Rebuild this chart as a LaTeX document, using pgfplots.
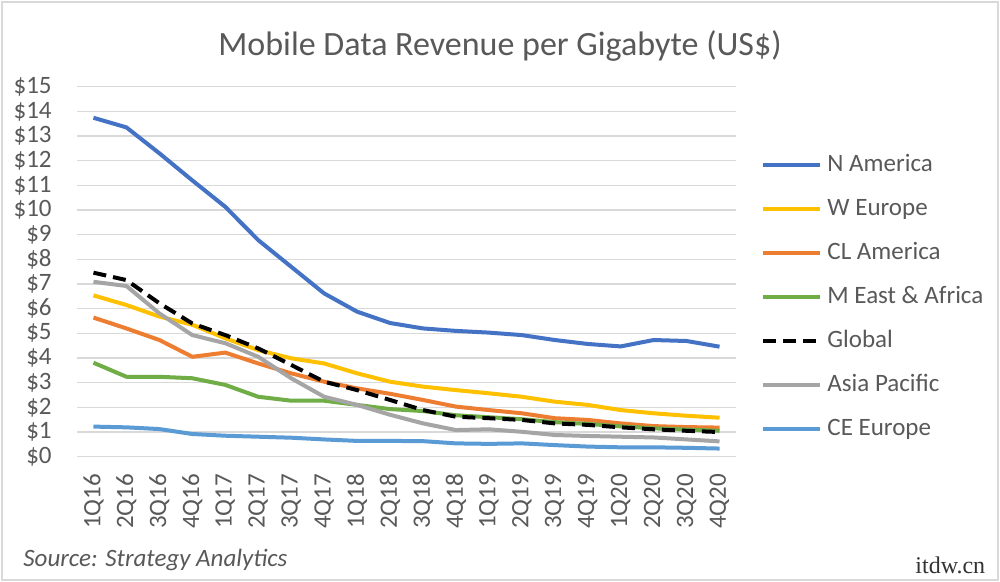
\documentclass[border=0pt]{standalone}
\usepackage{fontspec}
\setmainfont{Carlito}
\newfontfamily\wm{Liberation Serif}
\usepackage{pgfplots}
\pgfplotsset{compat=1.18}
\definecolor{txt}{HTML}{595959}
\definecolor{gridc}{HTML}{D9D9D9}
\definecolor{cNA}{HTML}{4472C4}
\definecolor{cWE}{HTML}{FFC000}
\definecolor{cCL}{HTML}{ED7D31}
\definecolor{cME}{HTML}{70AD47}
\definecolor{cAP}{HTML}{A5A5A5}
\definecolor{cCE}{HTML}{5B9BD5}
\begin{document}
\begin{tikzpicture}
\useasboundingbox (0,0) rectangle (500pt,291pt);
\fill[white] (0,0) rectangle (500pt,291pt);
\draw[color=gridc, line width=0.75pt] (1pt,1pt) rectangle (499pt,290pt);
\node[anchor=base, inner sep=0pt, font=\fontsize{17}{20}\selectfont, text=txt] at (250pt,263pt) {Mobile Data Revenue per Gigabyte (US\$)};
\begin{axis}[
  at={(38.5pt,62.65pt)}, anchor=south west,
  scale only axis, width=329.5pt, height=185pt,
  xmin=-0.5, xmax=19.5, ymin=0, ymax=15,
  xtick={0,...,19},
  xticklabels={1Q16,2Q16,3Q16,4Q16,1Q17,2Q17,3Q17,4Q17,1Q18,2Q18,3Q18,4Q18,1Q19,2Q19,3Q19,4Q19,1Q20,2Q20,3Q20,4Q20},
  ytick={0,...,15},
  yticklabels={\$0,\$1,\$2,\$3,\$4,\$5,\$6,\$7,\$8,\$9,\$10,\$11,\$12,\$13,\$14,\$15},
  axis line style={draw=none}, major tick length=0pt,
  ymajorgrids, grid style={gridc, line width=0.6pt},
  tick label style={font=\fontsize{12.5}{14}\selectfont, text=txt},
  xticklabel style={rotate=90, anchor=east, inner sep=0pt},
  xticklabel shift=8.5pt,
  yticklabel style={anchor=east, inner sep=0pt},
  yticklabel shift=12.5pt,
  legend cell align=left,
  legend style={at={(1.038,0.821)}, anchor=north west, draw=none, fill=none,
    inner sep=0pt, row sep=10pt, column sep=2.5pt,
    font=\fontsize{12.5}{14}\selectfont, text=txt,
    nodes={inner sep=0pt, text height=9pt, text depth=3pt}},
  legend image code/.code={\draw[#1] (0pt,0pt) -- (28.5pt,0pt);},
  every axis plot/.append style={line width=2pt, line join=round},
]
\addplot[cNA] coordinates {(0,13.74)(1,13.35)(2,12.3)(3,11.2)(4,10.13)(5,8.78)(6,7.7)(7,6.62)(8,5.88)(9,5.42)(10,5.2)(11,5.1)(12,5.03)(13,4.93)(14,4.73)(15,4.57)(16,4.47)(17,4.73)(18,4.69)(19,4.46)};
\addlegendentry{N America}
\addplot[cWE] coordinates {(0,6.54)(1,6.15)(2,5.68)(3,5.35)(4,4.8)(5,4.32)(6,3.99)(7,3.78)(8,3.38)(9,3.04)(10,2.84)(11,2.7)(12,2.57)(13,2.43)(14,2.23)(15,2.1)(16,1.89)(17,1.76)(18,1.66)(19,1.58)};
\addlegendentry{W Europe}
\addplot[cCL] coordinates {(0,5.64)(1,5.2)(2,4.73)(3,4.05)(4,4.22)(5,3.78)(6,3.38)(7,3.04)(8,2.77)(9,2.55)(10,2.3)(11,2.03)(12,1.89)(13,1.76)(14,1.56)(15,1.49)(16,1.35)(17,1.24)(18,1.2)(19,1.18)};
\addlegendentry{CL America}
\addplot[cME] coordinates {(0,3.81)(1,3.24)(2,3.24)(3,3.18)(4,2.91)(5,2.43)(6,2.27)(7,2.27)(8,2.1)(9,1.93)(10,1.85)(11,1.68)(12,1.6)(13,1.52)(14,1.4)(15,1.33)(16,1.23)(17,1.15)(18,1.1)(19,1.05)};
\addlegendentry{M East \& Africa}
\addplot[black, dash pattern=on 6.5pt off 3.5pt] coordinates {(0,7.46)(1,7.16)(2,6.22)(3,5.4)(4,4.93)(5,4.39)(6,3.72)(7,3.04)(8,2.7)(9,2.3)(10,1.89)(11,1.62)(12,1.56)(13,1.49)(14,1.35)(15,1.29)(16,1.19)(17,1.11)(18,1.05)(19,1.0)};
\addlegendentry{Global}
\addplot[cAP] coordinates {(0,7.09)(1,6.92)(2,5.81)(3,4.93)(4,4.6)(5,4.05)(6,3.18)(7,2.43)(8,2.1)(9,1.7)(10,1.35)(11,1.08)(12,1.11)(13,1.01)(14,0.88)(15,0.84)(16,0.81)(17,0.78)(18,0.7)(19,0.62)};
\addlegendentry{Asia Pacific}
\addplot[cCE] coordinates {(0,1.22)(1,1.19)(2,1.12)(3,0.92)(4,0.85)(5,0.81)(6,0.77)(7,0.7)(8,0.64)(9,0.64)(10,0.63)(11,0.54)(12,0.52)(13,0.54)(14,0.47)(15,0.41)(16,0.38)(17,0.38)(18,0.36)(19,0.33)};
\addlegendentry{CE Europe}
\end{axis}
\node[anchor=base west, inner sep=0pt, font=\itshape\fontsize{12.5}{15}\selectfont, text=txt] at (11.5pt,7.65pt) {Source: Strategy Analytics};
\node[anchor=base west, inner sep=0pt, font=\wm\fontsize{12}{14}\selectfont, text=black!80] at (457.5pt,4pt) {itdw.cn};
\end{tikzpicture}
\end{document}
